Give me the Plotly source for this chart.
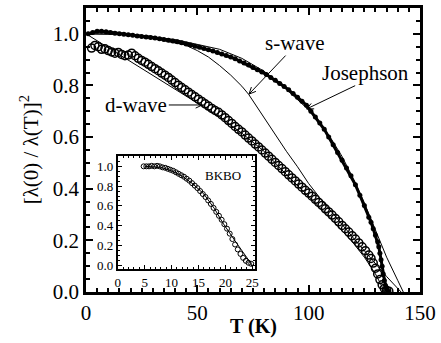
import math
import plotly.graph_objects as go

# ---------------- data ----------------
# Josephson data (filled dots), main panel
T_jos = [1, 3, 5, 7, 9, 11, 13, 15, 17, 19, 21, 23, 25, 27, 29, 31, 33, 35, 37, 39,
         41, 43, 45, 47, 49, 51, 53, 55, 57, 59, 61, 63, 65, 67, 69, 71, 73, 75, 77, 79,
         81, 83, 85, 87, 89, 91, 93, 95, 97, 99, 101, 103, 105, 107, 109, 111, 113, 115,
         117, 119, 121, 123, 125, 127, 128, 129, 130, 131, 131.5, 132, 132.5, 133, 133.5,
         134, 134.5, 135, 135.5, 136]
y_jos = [1.0, 1.005, 1.01, 1.01, 1.008, 1.005, 1.002, 1.0, 0.998, 0.996, 0.994, 0.992,
         0.99, 0.988, 0.986, 0.984, 0.981, 0.978, 0.975, 0.972, 0.969, 0.965, 0.961, 0.957,
         0.952, 0.948, 0.943, 0.938, 0.933, 0.928, 0.922, 0.916, 0.91, 0.903, 0.895, 0.887,
         0.879, 0.87, 0.861, 0.852, 0.842, 0.831, 0.82, 0.808, 0.796, 0.783, 0.769, 0.754,
         0.739, 0.723, 0.70, 0.678, 0.655, 0.63, 0.60, 0.57, 0.54, 0.51, 0.48, 0.45, 0.415,
         0.375, 0.335, 0.29, 0.27, 0.245, 0.22, 0.195, 0.175, 0.15, 0.125, 0.10, 0.07,
         0.045, 0.025, 0.012, 0.005, 0.0]

# d-wave data (open circles), main panel
T_dw = [2.5, 4, 5.5, 7, 8.5, 10, 11.5, 13, 14.5, 16, 17.5, 19, 20.5, 22, 23.5, 25, 26.5,
        28, 29.5, 31, 32.5, 34, 35.5, 37, 38.5, 40, 41.5, 43, 44.5, 46, 47.5, 49, 50.5,
        52, 53.5, 55, 56.5, 58, 59.5, 61, 62.5, 64, 65.5, 67, 68.5, 70, 71.5, 73, 74.5,
        76, 77.5, 79, 80.5, 82, 83.5, 85, 86.5, 88, 89.5, 91, 92.5, 94, 95.5, 97, 98.5,
        100, 101.5, 103, 104.5, 106, 107.5, 109, 110.5, 112, 113.5, 115, 116.5, 118,
        119.5, 121, 122.5, 124, 125.5, 127, 128, 129, 130, 131, 132, 133, 134, 135, 136]
y_dw = [0.945, 0.955, 0.95, 0.94, 0.942, 0.935, 0.93, 0.925, 0.928, 0.92, 0.915, 0.918,
        0.925, 0.915, 0.905, 0.897, 0.89, 0.882, 0.873, 0.865, 0.857, 0.848, 0.84, 0.831,
        0.821, 0.811, 0.801, 0.792, 0.783, 0.774, 0.765, 0.756, 0.747, 0.738, 0.729,
        0.72, 0.711, 0.703, 0.696, 0.686, 0.675, 0.664, 0.653, 0.641, 0.63, 0.62, 0.608,
        0.596, 0.585, 0.573, 0.562, 0.55, 0.538, 0.526, 0.514, 0.502, 0.49, 0.478, 0.466,
        0.454, 0.442, 0.43, 0.418, 0.406, 0.394, 0.383, 0.371, 0.359, 0.347, 0.335,
        0.322, 0.31, 0.298, 0.285, 0.272, 0.258, 0.245, 0.232, 0.218, 0.205, 0.19, 0.175,
        0.16, 0.143, 0.13, 0.112, 0.092, 0.07, 0.048, 0.028, 0.014, 0.006, 0.003]

# theory curves, main panel
T_dth = [0, 20, 40, 53, 60, 70, 80, 90, 100, 110, 120, 125, 130, 133, 133.8]
y_dth = [1.0, 0.893, 0.787, 0.718, 0.678, 0.615, 0.545, 0.455, 0.37, 0.285, 0.19, 0.135,
         0.07, 0.02, 0.0]

T_sth = [0, 10, 20, 30, 40, 45, 50, 55, 60, 65, 70, 73, 80, 87, 90, 95, 100, 105, 110,
         115, 120, 125, 130, 135, 141.5]
y_sth = [1.0, 1.0, 0.998, 0.99, 0.972, 0.955, 0.935, 0.91, 0.877, 0.84, 0.797, 0.766,
         0.675, 0.582, 0.545, 0.485, 0.42, 0.365, 0.312, 0.26, 0.21, 0.16, 0.11, 0.06, 0.0]

T_jth = [0, 20, 40, 60, 70, 80, 90, 100, 105, 110, 115, 120, 125, 130, 135, 140, 142.5]
y_jth = [1.0, 0.997, 0.978, 0.94, 0.905, 0.855, 0.785, 0.705, 0.655, 0.595, 0.525, 0.44,
         0.345, 0.24, 0.135, 0.045, 0.0]

# inset (BKBO)
T_bk = [4.8, 5.3, 5.8, 6.3, 6.8, 7.3, 7.8, 8.3, 8.8, 9.3, 9.8, 10.3, 10.8, 11.3, 11.8,
        12.3, 12.8, 13.3, 13.8, 14.3, 14.8, 15.3, 15.8, 16.3, 16.8, 17.3, 17.8, 18.3,
        18.8, 19.3, 19.8, 20.3, 20.8, 21.3, 21.8, 22.3, 22.8, 23.3, 23.8, 24.3, 24.8]
y_bk = [1.0, 1.0, 1.0, 1.005, 1.0, 1.005, 1.0, 0.99, 0.985, 0.975, 0.965, 0.955, 0.94,
        0.925, 0.91, 0.895, 0.875, 0.855, 0.83, 0.805, 0.78, 0.75, 0.72, 0.69, 0.655,
        0.62, 0.58, 0.54, 0.5, 0.46, 0.415, 0.37, 0.32, 0.265, 0.21, 0.16, 0.115, 0.075,
        0.045, 0.025, 0.015]
T_bkth = [5, 8, 10, 12, 14, 16, 18, 19.5, 22, 25]
y_bkth = [1.0, 0.99, 0.955, 0.9, 0.82, 0.72, 0.57, 0.43, 0.23, 0.0]

main_xticks = [0, 50, 100, 150]
main_yticks = [0.0, 0.2, 0.4, 0.6, 0.8, 1.0]
inset_xticks = [0, 5, 10, 15, 20, 25]
inset_yticks = [0.0, 0.2, 0.4, 0.6, 0.8, 1.0]

# ---------------- figure ----------------
SERIF = "Liberation Serif"
fig = go.Figure()

line_style = dict(color="black", width=1)
fig.add_trace(go.Scatter(x=T_dth, y=y_dth, mode="lines", line=line_style,
                         xaxis="x", yaxis="y", showlegend=False))
fig.add_trace(go.Scatter(x=T_sth, y=y_sth, mode="lines", line=line_style,
                         xaxis="x", yaxis="y", showlegend=False))
fig.add_trace(go.Scatter(x=T_jth, y=y_jth, mode="lines", line=line_style,
                         xaxis="x", yaxis="y", showlegend=False))
fig.add_trace(go.Scatter(x=T_dw, y=y_dw, mode="markers",
                         marker=dict(symbol="circle-open", size=8, color="black",
                                     line=dict(width=1.5, color="black")),
                         xaxis="x", yaxis="y", showlegend=False))
fig.add_trace(go.Scatter(x=T_jos, y=y_jos, mode="lines+markers",
                         line=dict(color="black", width=3),
                         marker=dict(symbol="circle", size=5, color="black"),
                         xaxis="x", yaxis="y", showlegend=False))

fig.add_trace(go.Scatter(x=T_bkth, y=y_bkth, mode="lines", line=line_style,
                         xaxis="x2", yaxis="y2", showlegend=False))
fig.add_trace(go.Scatter(x=T_bk, y=y_bk, mode="markers",
                         marker=dict(symbol="circle-open", size=5, color="black",
                                     line=dict(width=1, color="black")),
                         xaxis="x2", yaxis="y2", showlegend=False))

W, H = 441, 343
ML, MR, MT, MB = 86, 19, 5, 51
PW, PH = W - ML - MR, H - MT - MB

main_axis_common = dict(showgrid=False, zeroline=False, showline=True, linecolor="black",
                        linewidth=2.5, mirror="allticks", ticks="inside", ticklen=7,
                        tickwidth=2, tickcolor="black",
                        tickfont=dict(family=SERIF, size=21, color="black"))
fig.update_layout(
    xaxis=dict(range=[0, 150], tickvals=main_xticks, domain=[0, 1],
               minor=dict(dtick=5, ticks="inside", ticklen=4, tickwidth=1.5,
                          tickcolor="black"),
               anchor="y", **main_axis_common),
    yaxis=dict(range=[0, 1.1], tickvals=main_yticks, tickformat=".1f", domain=[0, 1],
               minor=dict(dtick=0.05, ticks="inside", ticklen=4, tickwidth=1.5,
                          tickcolor="black"),
               anchor="x", **main_axis_common),
)

inset_axis_common = dict(showgrid=False, zeroline=False, showline=True, linecolor="black",
                         linewidth=2, mirror="allticks", ticks="inside", ticklen=4,
                         tickwidth=1.2, tickcolor="black", ticklabelstandoff=0,
                         tickfont=dict(family=SERIF, size=13, color="#000000"))
x2dom = [(118 - ML) / PW, (256 - ML) / PW]
y2dom = [(H - MB - 269) / PH, (H - MB - 155) / PH]
fig.update_layout(
    xaxis2=dict(range=[0, 25.5], tickvals=inset_xticks, domain=x2dom, anchor="y2",
                minor=dict(dtick=1, ticks="inside", ticklen=2, tickwidth=1,
                           tickcolor="black"),
                **inset_axis_common),
    yaxis2=dict(range=[-0.04, 1.1], tickvals=inset_yticks, tickformat=".1f",
                domain=y2dom, anchor="x2",
                minor=dict(dtick=0.05, ticks="inside", ticklen=2, tickwidth=1,
                           tickcolor="black"),
                **inset_axis_common),
)

# white background behind inset
fig.add_shape(type="rect", xref="x2 domain", yref="y2 domain", x0=0, x1=1, y0=0, y1=1,
              fillcolor="white", line=dict(width=0), layer="below")

ann = []
ann.append(dict(text="s-wave", x=93.75, y=0.966, xref="x", yref="y", showarrow=False,
                font=dict(family=SERIF, size=21, color="black")))
ann.append(dict(text="Josephson", x=125.4, y=0.847, xref="x", yref="y", showarrow=False,
                font=dict(family=SERIF, size=21, color="black")))
ann.append(dict(text="d-wave", x=22.3, y=0.724, xref="x", yref="y", showarrow=False,
                font=dict(family=SERIF, size=21, color="black")))
ann.append(dict(text="BKBO", x=19.6, y=0.91, xref="x2", yref="y2", showarrow=False,
                font=dict(family=SERIF, size=13, color="black")))
ann.append(dict(text="<b>T (K)</b>", x=0.5, y=(H - MB - 327) / PH, xref="paper",
                yref="paper", showarrow=False, yanchor="middle",
                font=dict(family=SERIF, size=20, color="black")))
ann.append(dict(text="[λ(0) / λ(T)]<sup>2</sup>", x=(29 - ML) / PW, y=0.5,
                xref="paper", yref="paper", showarrow=False, textangle=-90,
                xanchor="center", yanchor="middle",
                font=dict(family=SERIF, size=21, color="black")))


def px2data(px, py):
    return (px - ML) / PW * 150, (H - MB - py) / PH * 1.1


def arrow(tail_px, tip_px):
    tx, ty = px2data(*tip_px)
    dx, dy = tail_px[0] - tip_px[0], tail_px[1] - tip_px[1]
    out = [dict(text="", x=tx, y=ty, xref="x", yref="y", ax=dx, ay=dy,
                showarrow=True, arrowhead=0, arrowwidth=1, arrowcolor="black")]
    L = math.hypot(dx, dy)
    ux, uy = dx / L, dy / L
    for s in (1, -1):
        a = math.radians(25) * s
        rx = ux * math.cos(a) - uy * math.sin(a)
        ry = ux * math.sin(a) + uy * math.cos(a)
        out.append(dict(text="", x=tx, y=ty, xref="x", yref="y", ax=rx * 9, ay=ry * 9,
                        showarrow=True, arrowhead=0, arrowwidth=1, arrowcolor="black"))
    return out


ann += arrow((168, 103), (203, 103))
ann += arrow((288, 52), (250, 92))
ann += arrow((358, 83), (308, 107))

fig.update_layout(annotations=ann, width=W, height=H,
                  margin=dict(l=ML, r=MR, t=MT, b=MB, pad=0),
                  plot_bgcolor="white", paper_bgcolor="white", showlegend=False)

fig.write_html("out.html", config={"displayModeBar": False},
               post_script="document.body.style.margin='0px';"
                           "document.body.style.padding='0px';")
